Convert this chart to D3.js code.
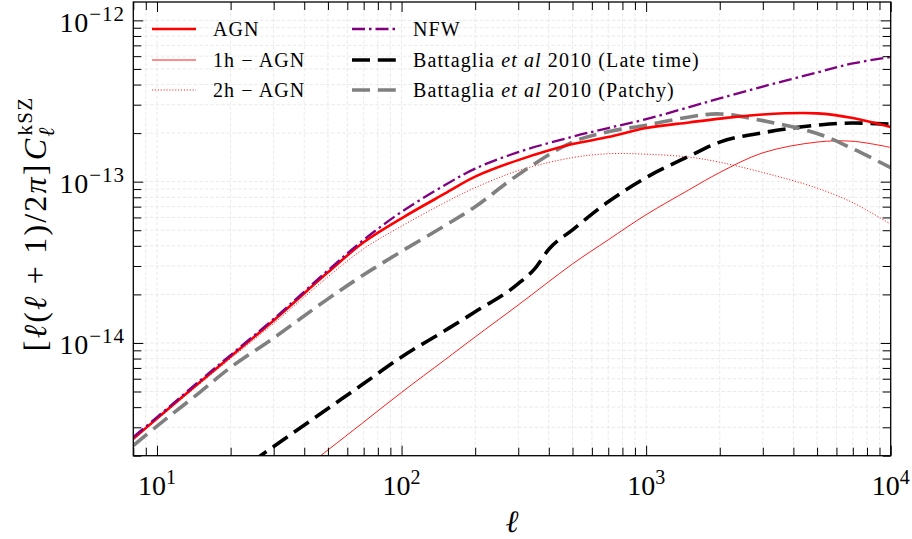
<!DOCTYPE html>
<html>
<head>
<meta charset="utf-8">
<script src="https://cdn.jsdelivr.net/npm/d3@7"></script>
<style>
  body { margin: 0; background: #fff; }
  text { font-family: "Liberation Serif", "Times New Roman", serif; fill: #000; }
</style>
</head>
<body>
<svg id="chart" width="912" height="539"></svg>
<script>
// multipole grid shared by most curves
const ell = [8, 10, 15, 20, 30, 50, 70, 100, 150, 200, 300, 500, 700, 1000, 1500, 2000, 3000, 5000, 7000, 10000];

// l(l+1)C_l/2pi for the AGN model and its halo terms
const agn = [2.55e-15, 3.40e-15, 5.73e-15, 8.24e-15, 1.38e-14, 2.74e-14, 4.21e-14, 5.93e-14, 8.42e-14, 1.074e-13,
             1.36e-13, 1.71e-13, 1.89e-13, 2.15e-13, 2.33e-13, 2.46e-13, 2.61e-13, 2.65e-13, 2.48e-13, 2.18e-13];
const twoHalo = [2.52e-15, 3.35e-15, 5.60e-15, 8.01e-15, 1.32e-14, 2.57e-14, 3.84e-14, 5.30e-14, 7.41e-14, 9.18e-14,
                 1.17e-13, 1.41e-13, 1.49e-13, 1.48e-13, 1.42e-13, 1.32e-13, 1.14e-13, 9.12e-14, 7.41e-14, 5.45e-14];
const nfw = [2.61e-15, 3.47e-15, 5.85e-15, 8.42e-15, 1.41e-14, 2.82e-14, 4.36e-14, 6.50e-14, 9.50e-14, 1.205e-13,
             1.525e-13, 1.90e-13, 2.15e-13, 2.44e-13, 2.90e-13, 3.28e-13, 3.89e-13, 4.75e-13, 5.41e-13, 5.93e-13];
const patchy = [2.31e-15, 3.05e-15, 4.96e-15, 7.05e-15, 1.074e-14, 1.877e-14, 2.645e-14, 3.70e-14, 5.33e-14, 6.99e-14,
                1.105e-13, 1.76e-13, 2.04e-13, 2.24e-13, 2.52e-13, 2.63e-13, 2.39e-13, 1.99e-13, 1.60e-13, 1.22e-13];

// one-halo term (only above the lower plot limit from l ~ 40)
const ellOneHalo = [40, 50, 70, 100, 150, 200, 300, 500, 700, 1000, 1500, 2000, 3000, 5000, 7000, 10000];
const oneHalo = [1.67e-15, 2.17e-15, 3.23e-15, 4.94e-15, 7.84e-15, 1.09e-14, 1.72e-14, 3.09e-14, 4.36e-14, 6.24e-14,
                 8.92e-14, 1.14e-13, 1.51e-13, 1.76e-13, 1.78e-13, 1.63e-13];

// Battaglia et al 2010 late-time spectrum
const ellLate = [20, 30, 50, 70, 100, 150, 200, 300, 350, 400, 500, 700, 1000, 1500, 2000, 3000, 5000, 7000, 10000];
const lateTime = [1.48e-15, 2.28e-15, 3.92e-15, 5.60e-15, 8.19e-15, 1.19e-14, 1.56e-14, 2.33e-14, 2.88e-14, 3.81e-14,
                  5.03e-14, 7.51e-14, 1.06e-13, 1.44e-13, 1.76e-13, 2.01e-13, 2.24e-13, 2.31e-13, 2.27e-13];

// axis tick values
const xMajor = [10, 100, 1000, 10000];
const xMajorExp = ["1", "2", "3", "4"];
const yMajor = [1e-14, 1e-13, 1e-12];
const yMajorExp = ["\u221214", "\u221213", "\u221212"];

const series = [
  { label: "AGN", xs: ell, ys: agn, color: "#ff0000", width: 2.6, dash: null },
  { label: "1h \u2212 AGN", xs: ellOneHalo, ys: oneHalo, color: "#ff0000", width: 0.9, dash: null },
  { label: "2h \u2212 AGN", xs: ell, ys: twoHalo, color: "#ff0000", width: 0.9, dash: "1.1,1.8" },
  { label: "NFW", xs: ell, ys: nfw, color: "#800080", width: 2.3, dash: "13,4,2.5,4" },
  { label: "late", xs: ellLate, ys: lateTime, color: "#000000", width: 3.6, dash: "18,7.8", kinked: true },
  { label: "patchy", xs: ell, ys: patchy, color: "#808080", width: 3.6, dash: "18,7.8" }
];

const svg = d3.select("#chart");
const L = 133.3, R = 890.7, T = 2, B = 455.7;

const x = d3.scaleLog().domain([8, 1e4]).range([L, R]);
const y = d3.scaleLog().domain([2e-15, 1.3e-12]).range([B, T]);

// minor + major tick positions
const xTicks = [];
for (let k = 0; k <= 4; k++) for (let m = 1; m <= 9; m++) {
  const v = m * Math.pow(10, k);
  if (v >= 8 && v <= 1e4 * 1.0001) xTicks.push(v);
}
const yTicks = [];
for (let k = -15; k <= -12; k++) for (let m = 1; m <= 9; m++) {
  const v = m * Math.pow(10, k);
  if (v >= 2e-15 * 0.9999 && v <= 1.3e-12) yTicks.push(v);
}
const isMajor = v => Math.abs(Math.log10(v) - Math.round(Math.log10(v))) < 1e-6;

// grid
const grid = svg.append("g").attr("stroke", "#e4e4e4").attr("stroke-width", 0.8).attr("stroke-dasharray", "3.5,2");
grid.selectAll("line.gx").data(xTicks).join("line")
  .attr("x1", d => x(d)).attr("x2", d => x(d)).attr("y1", T).attr("y2", B);
grid.selectAll("line.gy").data(yTicks).join("line")
  .attr("y1", d => y(d)).attr("y2", d => y(d)).attr("x1", L).attr("x2", R);

// curves
svg.append("clipPath").attr("id", "plotclip").append("rect")
  .attr("x", L).attr("y", T).attr("width", R - L).attr("height", B - T);
const curves = svg.append("g").attr("clip-path", "url(#plotclip)");
const drawOrder = [1, 2, 4, 5, 0, 3];
drawOrder.forEach(i => {
  const s = series[i];
  const pts = s.xs.map((e, j) => [e, s.ys[j]]);
  const line = d3.line().x(d => x(d[0])).y(d => y(d[1]))
    .curve(s.kinked ? d3.curveMonotoneX : d3.curveCatmullRom.alpha(0.5));
  curves.append("path").attr("d", line(pts))
    .attr("fill", "none").attr("stroke", s.color).attr("stroke-width", s.width)
    .attr("stroke-dasharray", s.dash).attr("stroke-linejoin", "round");
});

// axes with inward ticks on all four sides
const tickLen = v => isMajor(v) ? 10 : 8;
function addXAxis(yPos, orient) {
  const ax = (orient === "bottom" ? d3.axisBottom(x) : d3.axisTop(x))
    .tickValues(xTicks).tickFormat("").tickSizeOuter(0);
  const g = svg.append("g").attr("transform", `translate(0,${yPos})`).call(ax);
  g.select(".domain").remove();
  g.selectAll(".tick line").attr("y2", d => orient === "bottom" ? -tickLen(d) : tickLen(d))
    .attr("stroke", "#000").attr("stroke-width", 1);
}
function addYAxis(xPos, orient) {
  const ax = (orient === "left" ? d3.axisLeft(y) : d3.axisRight(y))
    .tickValues(yTicks).tickFormat("").tickSizeOuter(0);
  const g = svg.append("g").attr("transform", `translate(${xPos},0)`).call(ax);
  g.select(".domain").remove();
  g.selectAll(".tick line").attr("x2", d => orient === "left" ? tickLen(d) : -tickLen(d))
    .attr("stroke", "#000").attr("stroke-width", 1);
}
addXAxis(B, "bottom");
addXAxis(T, "top");
addYAxis(L, "left");
addYAxis(R, "right");

svg.append("rect").attr("x", L).attr("y", T).attr("width", R - L).attr("height", B - T)
  .attr("fill", "none").attr("stroke", "#000").attr("stroke-width", 1.3);

// tick labels 10^n
const xl = svg.append("g").selectAll("text").data(xMajor).join("text")
  .attr("x", d => x(d)).attr("y", 495).attr("text-anchor", "middle").attr("font-size", 28);
xl.append("tspan").text("10");
xl.append("tspan").attr("font-size", 20).attr("dy", -11).text((d, i) => xMajorExp[i]);

const yl = svg.append("g").selectAll("text").data(yMajor).join("text")
  .attr("x", 125).attr("y", d => y(d) + 11.5).attr("text-anchor", "end").attr("font-size", 28);
yl.append("tspan").attr("letter-spacing", 0.8).text("10");
yl.append("tspan").attr("font-size", 21).attr("letter-spacing", 1).attr("dy", -11).text((d, i) => yMajorExp[i]);

// axis titles
svg.append("text").attr("x", 512).attr("y", 532).attr("text-anchor", "middle")
  .attr("font-size", 31).attr("font-style", "italic").text("\u2113");

const yt = svg.append("text").attr("transform", "translate(46,224) rotate(-90)")
  .attr("text-anchor", "middle").attr("font-size", 32).attr("letter-spacing", 2.2);
yt.append("tspan").text("[");
yt.append("tspan").attr("font-style", "italic").text("\u2113");
yt.append("tspan").text("(");
yt.append("tspan").attr("font-style", "italic").text("\u2113");
yt.append("tspan").text(" + 1)/2");
yt.append("tspan").attr("font-style", "italic").text("\u03c0");
yt.append("tspan").text("]");
yt.append("tspan").attr("font-style", "italic").attr("dx", 2).text("C");
yt.append("tspan").attr("font-style", "italic").attr("font-size", 22).attr("dy", 8).text("\u2113");
yt.append("tspan").attr("font-size", 21).attr("letter-spacing", 1.2).attr("dx", -10).attr("dy", -22).text("kSZ");

// legend
const legendItems = [
  { s: 0, x0: 152, xt: 213, yy: 29 },
  { s: 1, x0: 152, xt: 213, yy: 60 },
  { s: 2, x0: 152, xt: 213, yy: 90 },
  { s: 3, x0: 352, xt: 413, yy: 29 },
  { s: 4, x0: 352, xt: 413, yy: 60 },
  { s: 5, x0: 352, xt: 413, yy: 90 }
];
const lg = svg.append("g");
legendItems.forEach(it => {
  const s = series[it.s];
  lg.append("line").attr("x1", it.x0).attr("x2", it.x0 + 44).attr("y1", it.yy).attr("y2", it.yy)
    .attr("stroke", s.color).attr("stroke-width", s.width).attr("stroke-dasharray", s.dash);
  const t = lg.append("text").attr("x", it.xt).attr("y", it.yy + 6.5).attr("font-size", 20)
    .attr("letter-spacing", 1.1);
  if (it.s === 4 || it.s === 5) {
    t.append("tspan").text("Battaglia ");
    t.append("tspan").attr("font-style", "italic").text("et al");
    t.append("tspan").text(it.s === 4 ? " 2010 (Late time)" : " 2010 (Patchy)");
  } else {
    t.text(s.label);
  }
});
</script>
</body>
</html>
